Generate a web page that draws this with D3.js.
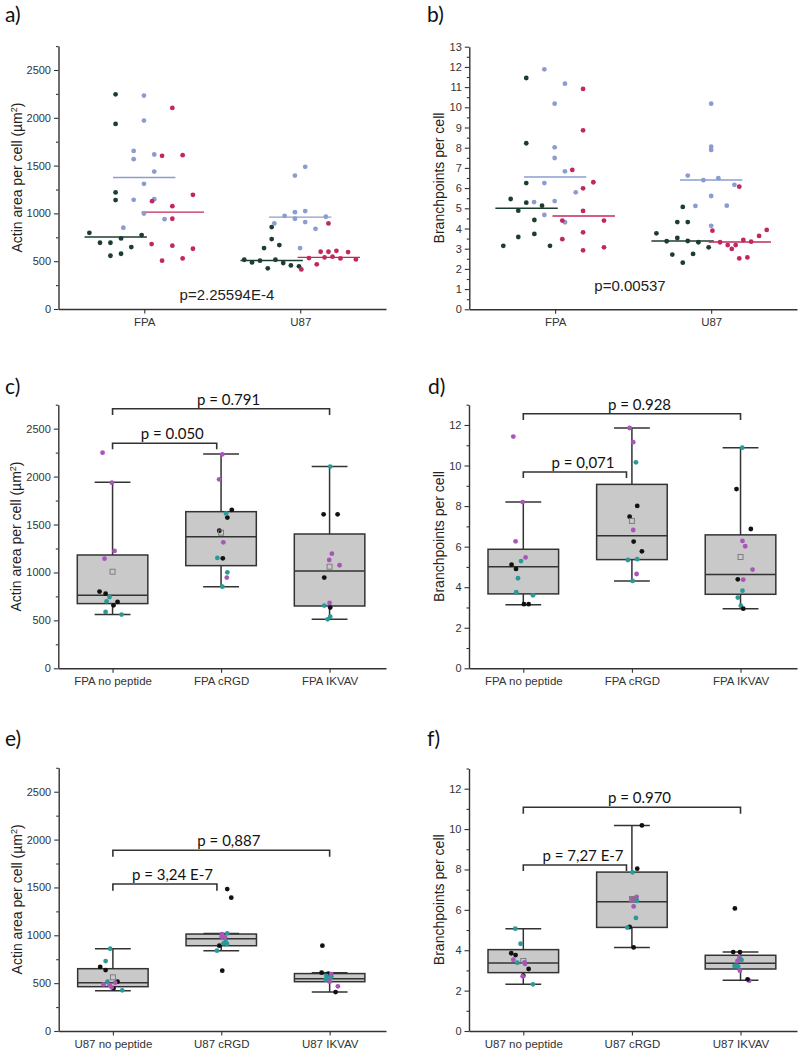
<!DOCTYPE html>
<html><head><meta charset="utf-8">
<script src="https://cdn.jsdelivr.net/npm/d3@7"></script>
<style>body{margin:0;background:#fff}</style>
</head><body>
<svg id="c" width="800" height="1056"></svg>
<script>
// ---------- DATA ----------
const scatterCats = ["FPA", "U87"];
const fpaCats = ["FPA no peptide", "FPA cRGD", "FPA IKVAV"];
const u87Cats = ["U87 no peptide", "U87 cRGD", "U87 IKVAV"];
const areaTicks = [0, 500, 1000, 1500, 2000, 2500];
const bpTicksA = [0,1,2,3,4,5,6,7,8,9,10,11,12,13];
const bpTicksB = [0, 2, 4, 6, 8, 10, 12];

// panel a: [x, value]
const aGreen = [[0.816,2246],[0.816,1936],[0.816,1219],[0.816,1139],[0.648,797],[0.716,693],[0.783,693],[0.851,738],[0.917,648],[0.983,773],[0.783,557],[0.851,578],
  [1.641,515],[1.691,487],[1.742,505],[1.768,637],[1.792,425],[1.817,857],[1.817,731],[1.841,515],[1.866,669],[1.891,481],[1.94,456],[1.992,446]];
const aBlue = [[0.998,2232],[0.998,1971],[0.932,1654],[0.932,1567],[1.064,1616],[1.064,1438],[0.998,1309],[0.932,1142],[1.064,1149],[0.866,850],[0.998,999],[1.13,940],
  [2.032,1487],[1.966,1396],[1.834,895],[1.9,975],[1.966,1013],[1.966,944],[2.032,1024],[2.032,909],[2.098,839],[2.164,965],[1.999,637]];
const aRed = [[1.18,2103],[1.114,1602],[1.246,1609],[1.312,1194],[1.05,1128],[1.18,1076],[1.18,944],[1.047,679],[1.18,662],[1.312,630],[1.114,505],[1.246,529],
  [2.007,414],[2.056,533],[2.106,467],[2.131,599],[2.156,540],[2.181,599],[2.181,895],[2.207,547],[2.232,609],[2.258,529],[2.307,595],[2.357,519]];
const aMedians = {green:[753,508], blue:[1375,961], red:[1013,540]};
const aP = "p=2.25594E-4";

// panel b
const bGreen = [[0.815,11.45],[0.815,8.22],[0.815,6.25],[0.815,5.28],[0.715,5.46],[0.764,4.88],[0.867,4.42],[0.916,5.13],[0.668,3.14],[0.764,3.58],[0.867,3.73],[0.967,3.14],
  [1.649,3.76],[1.715,3.37],[1.783,3.53],[1.751,2.71],[1.818,5.07],[1.783,4.32],[1.85,4.32],[1.85,3.38],[1.818,2.31],[1.884,2.74],[1.918,3.32],[1.984,3.07]];
const bBlue = [[0.931,11.88],[1.063,11.17],[0.997,10.18],[0.997,8.02],[0.997,7.49],[1.063,6.83],[0.931,6.25],[0.865,5.31],[0.997,5.36],[1.132,5.79],[0.931,4.67],[1.063,4.31],
  [2.0,10.18],[2.0,8.05],[2.0,7.89],[1.85,6.62],[1.95,6.39],[2.046,6.49],[2.149,6.16],[1.899,5.12],[2.0,5.61],[2.1,5.13],[2.0,4.13]];
const bRed = [[1.179,10.91],[1.179,8.86],[1.11,6.9],[1.245,6.29],[1.179,5.99],[1.179,4.87],[1.046,4.39],[1.313,4.39],[1.046,3.47],[1.179,3.81],[1.179,2.92],[1.313,3.07],
  [2.18,6.07],[2.008,3.89],[2.057,3.32],[2.106,3.18],[2.132,2.99],[2.157,3.18],[2.206,3.43],[2.256,3.35],[2.18,2.52],[2.232,2.57],[2.307,3.63],[2.356,3.93]];
const bMedians = {green:[5.0,3.38], blue:[6.55,6.4], red:[4.62,3.33]};
const bP = "p=0.00537";

// box panels: stats [whiskerLow, q1, median, q3, whiskerHigh, mean]
const cStats = [[560,675,761,1182,1940,1008],[852,1071,1373,1634,2236,1415],[511,650,1015,1401,2104,1060]];
const dStats = [[3.14,3.67,5.01,5.87,8.2,null],[4.31,5.36,6.54,9.07,11.85,7.27],[2.94,3.65,4.62,6.58,10.88,5.49]];
const eStats = [[421,463,505,651,860,561],[839,891,965,1013,1020,null],[407,515,545,600,609,null]];
const fStats = [[2.31,2.89,3.37,4.03,5.07,3.47],[4.14,5.13,6.4,7.87,10.18,6.54],[2.51,3.07,3.35,3.75,3.91,null]];

// box points: [value, jitter (category units), replicate 0/1/2]
const cPts = [
  [[2250,-0.092,2],[1937,-0.006,2],[1224,0.018,2],[1144,-0.074,2],[800,-0.12,0],[779,-0.064,0],[657,0.009,0],[692,0.046,0],[744,-0.028,1],[699,-0.055,1],[588,-0.064,1],[560,0.083,1]],
  [[2232,0.012,2],[1971,-0.018,2],[1652,0.099,0],[1572,0.058,0],[1616,0.046,1],[1436,-0.016,0],[1314,0.021,2],[1147,0.016,0],[1151,-0.034,1],[1001,0.058,1],[946,0.053,2],[852,0.012,1]],
  [[2104,0.006,1],[1606,-0.055,0],[1606,0.074,0],[1196,0.021,2],[1130,-0.003,2],[1075,0.092,2],[946,-0.049,0],[681,0,2],[654,-0.049,1],[633,0.006,0],[539,0.006,1],[511,-0.018,1]]];
const dPts = [
  [[11.43,-0.092,2],[8.2,-0.006,2],[6.26,-0.071,2],[5.29,-0.021,1],[5.47,0.021,2],[5.11,-0.108,0],[4.9,-0.067,0],[4.44,-0.049,1],[3.75,-0.065,1],[3.6,0.089,1],[3.16,0.006,0],[3.16,0.049,0]],
  [[11.85,-0.021,2],[11.15,0.012,2],[10.16,0.037,1],[8.01,0.049,0],[7.48,-0.021,0],[6.82,0.012,2],[6.25,0.016,0],[5.77,0.092,0],[5.34,-0.037,1],[5.38,0.049,1],[4.65,0.043,2],[4.31,0.006,1]],
  [[10.88,0.016,1],[8.84,-0.037,0],[6.87,0.095,0],[6.28,0.018,2],[6.02,0.043,2],[4.87,0.111,2],[4.39,-0.025,0],[4.37,0.025,2],[3.83,0.018,1],[3.49,-0.025,1],[3.09,0.003,1],[2.94,0.025,0]]];
const ePts = [
  [[860,-0.025,1],[731,-0.067,1],[669,-0.117,0],[637,-0.067,0],[515,0.043,0],[515,-0.049,1],[487,-0.086,2],[505,0.021,2],[446,0.006,0],[456,-0.012,2],[425,0.086,1],[481,-0.03,2]],
  [[1483,0.055,0],[1393,0.092,0],[630,0.009,0],[891,-0.018,0],[839,-0.04,1],[933,0.04,1],[1020,0.055,1],[1013,0.006,2],[979,0.034,2],[909,0.053,1],[985,0.003,2],[916,0.021,1]],
  [[891,-0.067,0],[609,-0.074,0],[599,-0.012,0],[467,0.076,2],[407,0.055,0],[515,0,2],[568,0.016,1],[543,-0.006,2],[575,-0.03,1],[557,-0.016,1],[536,-0.037,1],[595,0.015,2]]];
const fPts = [
  [[5.07,-0.074,1],[4.32,-0.025,1],[3.85,-0.111,0],[3.76,-0.071,0],[3.53,-0.092,2],[3.38,-0.055,1],[3.4,0.012,2],[3.07,0.049,0],[3.32,0.016,2],[2.74,0,0],[2.71,-0.006,2],[2.31,0.089,1]],
  [[10.18,0.092,0],[8.04,0.049,0],[7.86,0.006,1],[6.64,0.043,2],[6.45,0.046,1],[6.49,0.018,2],[6.17,0.016,2],[5.6,0.037,1],[5.15,-0.021,0],[5.12,-0.043,1],[4.14,0.016,0],[6.54,0.003,2]],
  [[6.07,-0.052,0],[3.91,-0.067,0],[3.91,-0.006,0],[3.65,-0.009,2],[3.52,0.009,1],[3.24,-0.037,1],[3.19,-0.021,1],[2.99,-0.006,2],[3.22,-0.055,1],[3.47,-0.028,2],[2.49,0.08,2],[2.56,0.065,0]]];

// brackets: [fromCat, toCat, yLine, yLeg, label]
const cBr = [[1,1.96,2348,2285,"p = 0.050"],[1,3,2708,2643,"p = 0.791"]];
const dBr = [[1,1.95,9.68,9.38,"p = 0,071"],[1,3,12.55,12.24,"p = 0.928"]];
const eBr = [[1,1.96,1536,1466,"p = 3,24 E-7"],[1,3,1888,1821,"p = 0,887"]];
const fBr = [[1,1.95,8.22,7.92,"p = 7,27 E-7"],[1,3,11.08,10.76,"p = 0.970"]];

// ---------- DRAW ----------
const svg = d3.select('#c');
const AX = '#333';
const SANS = '"Liberation Sans", Arial, sans-serif';
const CAL = 'Lato, "Open Sans", sans-serif';
const repColors = ['#111111', '#2a9a98', '#a856b8'];
const serColors = {green:'#1d3d31', blue:'#8b9dd0', red:'#c22860'};

function axes(f, yMax, majors, minorStep, xDomain, xTicks, xLabels, yTitle, titleOffset) {
  const x = d3.scaleLinear().domain(xDomain).range([f.x0, f.x1]);
  const y = d3.scaleLinear().domain([0, yMax]).range([f.y0, f.yTop]);
  const minors = d3.range(0, yMax + 1e-9, minorStep).filter(v => !majors.includes(v));
  const g = svg.append('g');
  g.append('g').attr('transform', `translate(${f.x0},0)`)
    .call(d3.axisLeft(y).tickValues(minors).tickSize(2.5).tickFormat(''))
    .call(s => s.select('.domain').remove());
  g.append('g').attr('transform', `translate(${f.x0},0)`)
    .call(d3.axisLeft(y).tickValues(majors).tickFormat(d3.format('d')).tickSize(4.5).tickSizeOuter(0).tickPadding(3));
  const xa = g.append('g').attr('transform', `translate(0,${f.y0})`)
    .call(d3.axisBottom(x).tickValues(xTicks).tickFormat((d, i) => xLabels[i]).tickSize(4.5).tickSizeOuter(0).tickPadding(4));
  g.selectAll('.domain').attr('stroke', AX).attr('stroke-width', 1.4);
  g.selectAll('.tick line').attr('stroke', AX).attr('stroke-width', 1.1);
  g.selectAll('.tick text').attr('fill', '#333').style('font-family', SANS).style('font-size', '11px');
  xa.selectAll('.tick text').style('font-size', '11.5px');
  svg.append('text').attr('transform', `translate(${f.x0 - titleOffset},${(f.y0 + f.yTop) / 2}) rotate(-90)`)
    .attr('text-anchor', 'middle').attr('fill', '#222').style('font-family', SANS).style('font-size', '14px')
    .each(function () {
      const t = d3.select(this);
      if (yTitle.sup) {
        t.append('tspan').text(yTitle.text);
        t.append('tspan').attr('dy', -5).style('font-size', '9px').text(yTitle.sup);
        t.append('tspan').attr('dy', 5).text(yTitle.after);
      } else t.text(yTitle.text);
    });
  return {x, y};
}

function panelLabel(txt, px, py) {
  svg.append('text').attr('x', px).attr('y', py).text(txt)
    .style('font-family', CAL).style('font-size', '21px').attr('fill', '#111');
}

const areaTitle = {text: 'Actin area per cell (µm', sup: '2', after: ')'};
const bpTitle = {text: 'Branchpoints per cell'};

function scatterPanel(f, yMax, majors, minorStep, series, medians, pText, pPos, title, toff) {
  const {x, y} = axes(f, yMax, majors, minorStep, [0.45, 2.55], [1, 2], scatterCats, title, toff);
  const offs = {green: -0.183, blue: 0, red: 0.183};
  ['green', 'blue', 'red'].forEach(k => {
    medians[k].forEach((m, i) => {
      const c = i + 1 + offs[k];
      svg.append('line').attr('x1', x(c - 0.2)).attr('x2', x(c + 0.2)).attr('y1', y(m)).attr('y2', y(m))
        .attr('stroke', serColors[k]).attr('stroke-width', 1.4);
    });
  });
  ['green', 'blue', 'red'].forEach(k => {
    svg.append('g').selectAll('circle').data(series[k]).join('circle')
      .attr('cx', d => x(d[0])).attr('cy', d => y(d[1])).attr('r', 2.4).attr('fill', serColors[k]);
  });
  svg.append('text').attr('x', x(pPos[0])).attr('y', y(pPos[1])).attr('text-anchor', 'middle')
    .style('font-family', SANS).style('font-size', '15px').attr('fill', '#222').text(pText);
}

function boxPanel(f, yMax, majors, minorStep, cats, stats, pts, brs, title, toff) {
  const {x, y} = axes(f, yMax, majors, minorStep, [0.5, 3.52], [1, 2, 3], cats, title, toff);
  const bw = 0.65, cw = 0.33;
  stats.forEach((s, i) => {
    const c = i + 1;
    const g = svg.append('g');
    g.append('line').attr('x1', x(c)).attr('x2', x(c)).attr('y1', y(s[0])).attr('y2', y(s[4])).attr('stroke', AX).attr('stroke-width', 1.5);
    g.append('rect').attr('x', x(c - bw / 2)).attr('width', x(c + bw / 2) - x(c - bw / 2))
      .attr('y', y(s[3])).attr('height', y(s[1]) - y(s[3])).attr('fill', '#c9c9c9').attr('stroke', AX).attr('stroke-width', 1.5);
    g.append('line').attr('x1', x(c - bw / 2)).attr('x2', x(c + bw / 2)).attr('y1', y(s[2])).attr('y2', y(s[2])).attr('stroke', AX).attr('stroke-width', 1.5);
    [s[0], s[4]].forEach(v => g.append('line').attr('x1', x(c - cw / 2)).attr('x2', x(c + cw / 2)).attr('y1', y(v)).attr('y2', y(v)).attr('stroke', AX).attr('stroke-width', 1.5));
  });
  pts.forEach((arr, i) => {
    svg.append('g').selectAll('circle').data(arr).join('circle')
      .attr('cx', d => x(i + 1 + d[1])).attr('cy', d => y(d[0])).attr('r', 2.4).attr('fill', d => repColors[d[2]]);
  });
  stats.forEach((s, i) => {
    if (s[5] == null) return;
    svg.append('rect').attr('x', x(i + 1) - 2.5).attr('y', y(s[5]) - 2.5).attr('width', 5).attr('height', 5)
      .attr('fill', 'none').attr('stroke', '#777').attr('stroke-width', 0.9);
  });
  brs.forEach(b => {
    const p = d3.path();
    p.moveTo(x(b[0]), y(b[3])); p.lineTo(x(b[0]), y(b[2])); p.lineTo(x(b[1]), y(b[2])); p.lineTo(x(b[1]), y(b[3]));
    svg.append('path').attr('d', p.toString()).attr('fill', 'none').attr('stroke', AX).attr('stroke-width', 1.6);
    const tx = b[1] > 2.5 ? 2.07 : 1.55;
    svg.append('text').attr('x', x(tx)).attr('y', y(b[2]) - 4).attr('text-anchor', 'middle')
      .style('font-family', CAL).style('font-size', '15px').attr('fill', '#111').text(b[4]);
  });
}

const fa = {x0: 58.5, x1: 386, y0: 309, yTop: 46.1};
const fb = {x0: 469.3, x1: 797, y0: 309.3, yTop: 46.7};
const fc = {x0: 58.3, x1: 386, y0: 668.3, yTop: 404.7};
const fd = {x0: 469, x1: 797, y0: 668.3, yTop: 404.7};
const fe = {x0: 58.7, x1: 386, y0: 1031, yTop: 767.8};
const ff = {x0: 469, x1: 797, y0: 1031, yTop: 768.5};

scatterPanel(fa, 2750, areaTicks, 250, {green: aGreen, blue: aBlue, red: aRed}, aMedians, aP, [1.53, 94], areaTitle, 37);
scatterPanel(fb, 13, bpTicksA, 0.5, {green: bGreen, blue: bBlue, red: bRed}, bMedians, bP, [1.48, 0.9], bpTitle, 25);
boxPanel(fc, 2750, areaTicks, 250, fpaCats, cStats, cPts, cBr, areaTitle, 37);
boxPanel(fd, 13, bpTicksB, 1, fpaCats, dStats, dPts, dBr, bpTitle, 25);
boxPanel(fe, 2750, areaTicks, 250, u87Cats, eStats, ePts, eBr, areaTitle, 37);
boxPanel(ff, 13, bpTicksB, 1, u87Cats, fStats, fPts, fBr, bpTitle, 25);

panelLabel('a)', 5, 22);
panelLabel('b)', 427, 22);
panelLabel('c)', 5, 394);
panelLabel('d)', 428, 394);
panelLabel('e)', 5, 746);
panelLabel('f)', 427, 746);
</script>
</body></html>
